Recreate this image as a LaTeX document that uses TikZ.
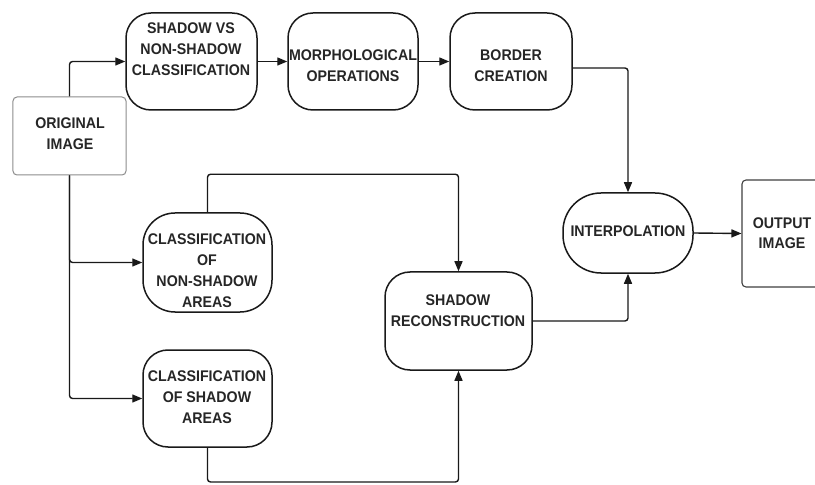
\documentclass[tikz,border=0pt]{standalone}
\usepackage{fontspec}
\setmainfont[FakeStretch=0.92]{Liberation Sans}
\usetikzlibrary{arrows.meta}
\begin{document}
\begin{tikzpicture}[x=1bp,y=-1bp,
  box/.style={draw=black!90, line width=1.5bp, fill=white, inner sep=0pt, rectangle},
  lbl/.style={inner sep=0pt, align=center, text=black!85,
    font=\fontsize{15.5}{21}\selectfont\bfseries},
  conn/.style={draw=black!90, line width=1.4bp, rounded corners=3bp},
  arr/.style={conn, -{Triangle[length=10bp,width=8bp]}}]
\clip (0,0) rectangle (815,485);
\fill[white] (0,0) rectangle (815,485);
% boxes
\node[box, draw=black!45, line width=1bp, rounded corners=4bp, minimum width=113bp, minimum height=78bp] (orig) at (69.5,136) {};
\node[box, rounded corners=25bp, minimum width=131bp, minimum height=97bp] (svn) at (191.5,61.5) {};
\node[box, rounded corners=25bp, minimum width=130bp, minimum height=97bp] (morph) at (353,61.5) {};
\node[box, rounded corners=25bp, minimum width=122bp, minimum height=97bp] (border) at (511,61.5) {};
\node[box, rounded corners=38bp, minimum width=130bp, minimum height=80bp] (interp) at (628,233) {};
\node[box, draw=black!75, line width=1.1bp, rounded corners=4bp, minimum width=80bp, minimum height=107bp] (out) at (782,233.5) {};
\node[box, rounded corners=32bp, minimum width=129bp, minimum height=99bp] (cnon) at (207.5,262.5) {};
\node[box, rounded corners=25bp, minimum width=129bp, minimum height=97bp] (csh) at (207.5,398.5) {};
\node[box, rounded corners=25bp, minimum width=147bp, minimum height=98bp] (recon) at (458.5,321) {};
% texts
\node[lbl] (origt) at (70,134) {ORIGINAL\\IMAGE};
\node[lbl] (svnt) at (191,49.5) {SHADOW VS\\NON-SHADOW\\CLASSIFICATION};
\node[lbl] (morpht) at (353,65.5) {MORPHOLOGICAL\\OPERATIONS};
\node[lbl] (bordert) at (511,65.5) {BORDER\\CREATION};
\node[lbl] (interpt) at (628,231) {INTERPOLATION};
\node[lbl] (outt) at (782,233) {OUTPUT\\[-1bp]IMAGE};
\node[lbl] (cnont) at (207,271) {CLASSIFICATION\\OF\\NON-SHADOW\\AREAS};
\node[lbl] (csht) at (207,397) {CLASSIFICATION\\OF SHADOW\\AREAS};
\node[lbl] (recont) at (458,311) {SHADOW\\RECONSTRUCTION};
% connectors
\coordinate (bot) at (0,482);
\draw[arr] (orig.north) |- (svn.west);
\draw[arr] (svn.east) -- (morph.west);
\draw[arr] (morph.east) -- (border.west);
\draw[arr] ([yshift=-6.5bp]border.east) -| (interp.north);
\draw[arr] (interp.east) -- (out.west);
\draw[arr] (recon.east) -| (interp.south);
\draw[arr] (orig.south) |- (cnon.west);
\draw[arr] (orig.south) |- (csh.west);
\draw[arr] (cnon.north) -- ++(0,-38) -| (recon.north);
\draw[arr] (csh.south) -- (csh.south |- bot) -| (recon.south);
\end{tikzpicture}
\end{document}
